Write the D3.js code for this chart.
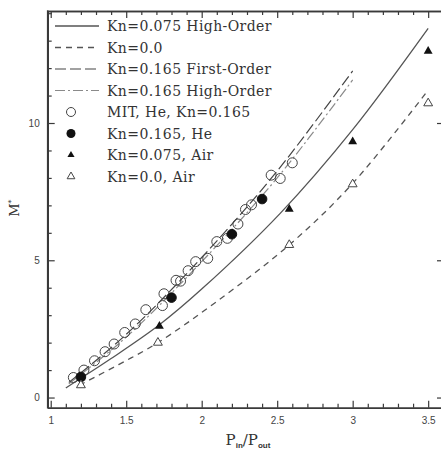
<!DOCTYPE html>
<html>
<head>
<meta charset="utf-8">
<script src="https://cdn.jsdelivr.net/npm/d3@7"></script>
<style>
  html, body { margin: 0; padding: 0; background: #fff; }
  svg { display: block; }
</style>
</head>
<body>
<svg id="chart" width="441" height="452"></svg>
<script>
// Pressure ratio P_in/P_out against normalized mass flow M*

// Measured points [pressure ratio, M*]
const mitHe = [
  [1.15, 0.73], [1.22, 1.0], [1.29, 1.34], [1.36, 1.67], [1.42, 1.95],
  [1.49, 2.37], [1.56, 2.68], [1.63, 3.2], [1.74, 3.35], [1.75, 3.78],
  [1.83, 4.27], [1.86, 4.24], [1.91, 4.62], [1.96, 4.95], [2.04, 5.07],
  [2.10, 5.68], [2.17, 5.8], [2.24, 6.32], [2.29, 6.85], [2.33, 7.02],
  [2.46, 8.1], [2.52, 7.98], [2.60, 8.55]
];
const kn165He = [[1.2, 0.75], [1.8, 3.64], [2.2, 5.95], [2.4, 7.23]];
const kn075Air = [[1.2, 0.72], [1.72, 2.6], [2.58, 6.86], [3.0, 9.32], [3.5, 12.62]];
const kn0Air = [[1.2, 0.45], [1.71, 2.0], [2.58, 5.56], [3.0, 7.77], [3.5, 10.72]];

// Model curves [pressure ratio, M*]
const kn075High = [[1.1, 0.35], [1.4, 1.42], [1.72, 2.65], [2.0, 3.95], [2.52, 6.71], [3.0, 9.76], [3.5, 13.45]];
const kn0Curve = [[1.19, 0.45], [1.45, 1.2], [1.71, 2.0], [2.1, 3.5], [2.58, 5.56], [3.0, 7.8], [3.5, 11.2]];
const kn165First = [[1.12, 0.55], [1.5, 2.3], [2.0, 5.1], [2.5, 8.25], [3.0, 11.9]];
const kn165High = [[1.12, 0.5], [1.5, 2.2], [2.0, 4.95], [2.5, 8.0], [3.0, 11.57]];

// Tick values
const xMajor = [1, 1.5, 2, 2.5, 3, 3.5];
const xTickLabels = ["1", "1.5", "2", "2.5", "3", "3.5"];
const yMajor = [0, 5, 10];
const yTickLabels = ["0", "5", "10"];

const legendLabels = [
  "Kn=0.075 High-Order", "Kn=0.0", "Kn=0.165 First-Order", "Kn=0.165 High-Order",
  "MIT, He, Kn=0.165", "Kn=0.165, He", "Kn=0.075, Air", "Kn=0.0, Air"
];

const svg = d3.select("#chart");
const frameL = 47.7, frameR = 441, frameT = 11, frameB = 407.7, rightAxisX = 444;

const x = d3.scaleLinear().domain([0.98, 3.585]).range([frameL, frameR]);
const y = d3.scaleLinear().domain([-0.37, 14.08]).range([frameB, frameT]);

const axisColor = "#3a3a3a";
const xMinor = d3.range(10, 36).map(v => v / 10).filter(v => !xMajor.some(m => Math.abs(m - v) < 1e-9));
const yMinor = d3.range(0, 15).filter(v => !yMajor.includes(v));

function styleAxis(g) {
  g.selectAll("path.domain").attr("stroke", axisColor).attr("stroke-width", 1.6);
  g.selectAll(".tick line").attr("stroke", axisColor).attr("stroke-width", 1.2);
  g.selectAll(".tick text").attr("fill", "#444").attr("font-family", "Liberation Sans, Arial, sans-serif").attr("font-size", 10);
}

// bottom axis, ticks pointing inward
const gb = svg.append("g").attr("transform", `translate(0,${frameB})`)
  .call(d3.axisBottom(x).tickValues(xMajor).tickFormat((d, i) => xTickLabels[i]).tickSizeInner(-7).tickSizeOuter(0).tickPadding(9));
styleAxis(gb);
const gbm = svg.append("g").attr("transform", `translate(0,${frameB})`)
  .call(d3.axisBottom(x).tickValues(xMinor).tickFormat("").tickSizeInner(-4).tickSizeOuter(0));
styleAxis(gbm);

// top axis
const gt = svg.append("g").attr("transform", `translate(0,${frameT})`)
  .call(d3.axisTop(x).tickValues(xMajor).tickFormat("").tickSizeInner(-7).tickSizeOuter(0));
styleAxis(gt);
const gtm = svg.append("g").attr("transform", `translate(0,${frameT})`)
  .call(d3.axisTop(x).tickValues(xMinor).tickFormat("").tickSizeInner(-4).tickSizeOuter(0));
styleAxis(gtm);
svg.append("line").attr("x1", frameR).attr("x2", rightAxisX).attr("y1", frameT).attr("y2", frameT)
  .attr("stroke", axisColor).attr("stroke-width", 1.6);

// left axis
const gl = svg.append("g").attr("transform", `translate(${frameL},0)`)
  .call(d3.axisLeft(y).tickValues(yMajor).tickFormat((d, i) => yTickLabels[i]).tickSizeInner(-7).tickSizeOuter(0).tickPadding(8));
styleAxis(gl);
const glm = svg.append("g").attr("transform", `translate(${frameL},0)`)
  .call(d3.axisLeft(y).tickValues(yMinor).tickFormat("").tickSizeInner(-4).tickSizeOuter(0));
styleAxis(glm);
gl.select("path.domain").attr("d", `M0,${frameB + 0.8}V${frameT - 0.8}`);

// right axis (its spine falls just past the edge)
const gr = svg.append("g").attr("transform", `translate(${rightAxisX},0)`)
  .call(d3.axisRight(y).tickValues(yMajor).tickFormat("").tickSizeInner(-7).tickSizeOuter(0));
styleAxis(gr);

// axis titles
const yt = svg.append("text")
  .attr("transform", `translate(19,${y(6.9)}) rotate(-90)`)
  .attr("text-anchor", "middle")
  .attr("font-family", "DejaVu Serif, serif").attr("font-size", 13).attr("fill", "#333");
yt.append("tspan").text("M");
yt.append("tspan").attr("font-size", 8).attr("dy", -5).text("*");

const xt = svg.append("text")
  .attr("x", 248).attr("y", 445)
  .attr("text-anchor", "middle")
  .attr("font-family", "DejaVu Serif, serif").attr("font-size", 15).attr("fill", "#333");
xt.append("tspan").text("P");
xt.append("tspan").attr("font-family", "Liberation Sans, Arial, sans-serif").attr("font-weight", "bold")
  .attr("font-size", 8).attr("dy", 3).text("in");
xt.append("tspan").attr("dy", -3).text("/P");
xt.append("tspan").attr("font-family", "Liberation Sans, Arial, sans-serif").attr("font-weight", "bold")
  .attr("font-size", 8).attr("dy", 3).text("out");

// curves
const line = d3.line().x(d => x(d[0])).y(d => y(d[1])).curve(d3.curveCatmullRom.alpha(0.5));
const curveStyles = [
  { data: kn075High, stroke: "#555", width: 1.3, dash: null },
  { data: kn0Curve, stroke: "#555", width: 1.3, dash: "6,5" },
  { data: kn165First, stroke: "#444", width: 1.2, dash: "11,4" },
  { data: kn165High, stroke: "#8a8a8a", width: 1.2, dash: "10,3,2,3" }
];
const plot = svg.append("g");
curveStyles.forEach(c => {
  plot.append("path").attr("d", line(c.data)).attr("fill", "none")
    .attr("stroke", c.stroke).attr("stroke-width", c.width)
    .attr("stroke-dasharray", c.dash);
});

// markers
const tri = d3.symbol().type(d3.symbolTriangle).size(34);
plot.selectAll(".mit").data(mitHe).join("circle")
  .attr("cx", d => x(d[0])).attr("cy", d => y(d[1])).attr("r", 5)
  .attr("fill", "none").attr("stroke", "#444").attr("stroke-width", 1);
plot.selectAll(".he").data(kn165He).join("circle")
  .attr("cx", d => x(d[0])).attr("cy", d => y(d[1])).attr("r", 4.8)
  .attr("fill", "#111").attr("stroke", "#111");
plot.selectAll(".air075").data(kn075Air).join("path")
  .attr("d", tri).attr("transform", d => `translate(${x(d[0])},${y(d[1])})`)
  .attr("fill", "#111");
plot.selectAll(".air0").data(kn0Air).join("path")
  .attr("d", tri).attr("transform", d => `translate(${x(d[0])},${y(d[1])})`)
  .attr("fill", "#fff").attr("stroke", "#444").attr("stroke-width", 1);

// legend
const legend = svg.append("g");
const rowY = i => 26 + i * 21.5;
curveStyles.forEach((c, i) => {
  legend.append("line").attr("x1", 55).attr("x2", 99).attr("y1", rowY(i)).attr("y2", rowY(i))
    .attr("stroke", c.stroke).attr("stroke-width", c.width).attr("stroke-dasharray", c.dash);
});
legend.append("circle").attr("cx", 71).attr("cy", rowY(4)).attr("r", 4.5)
  .attr("fill", "none").attr("stroke", "#444");
legend.append("circle").attr("cx", 71).attr("cy", rowY(5)).attr("r", 4.5)
  .attr("fill", "#111");
legend.append("path").attr("d", d3.symbol().type(d3.symbolTriangle).size(22))
  .attr("transform", `translate(71,${rowY(6)})`).attr("fill", "#111");
legend.append("path").attr("d", d3.symbol().type(d3.symbolTriangle).size(26))
  .attr("transform", `translate(71,${rowY(7)})`).attr("fill", "#fff").attr("stroke", "#444");
legend.selectAll("text.lab").data(legendLabels).join("text")
  .attr("x", 107).attr("y", (d, i) => rowY(i) + 5)
  .attr("font-family", "DejaVu Serif, serif").attr("font-size", 14).attr("letter-spacing", 0.4)
  .attr("fill", "#333")
  .text(d => d);
</script>
</body>
</html>
